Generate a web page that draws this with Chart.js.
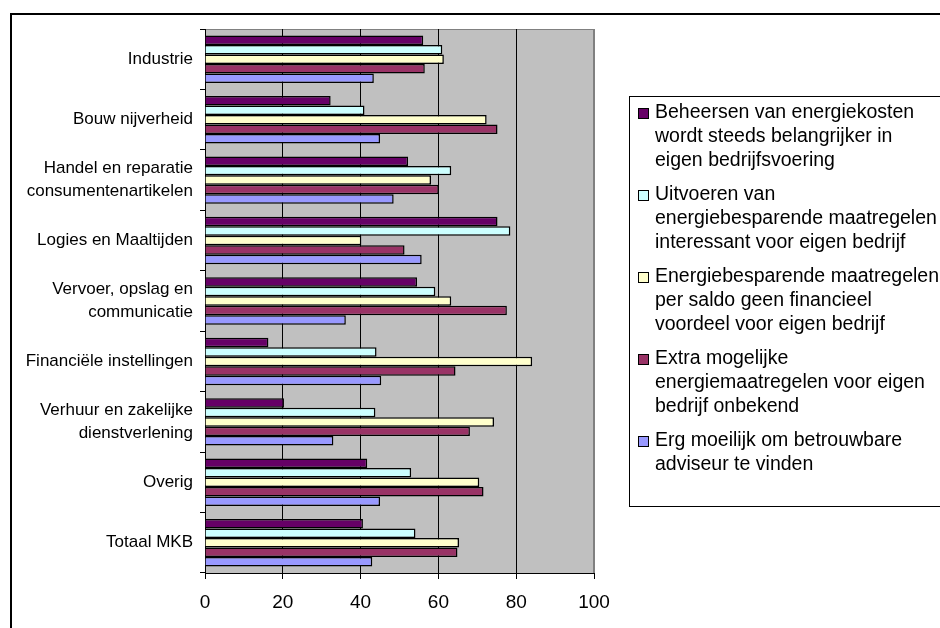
<!DOCTYPE html>
<html>
<head>
<meta charset="utf-8">
<script src="https://cdn.jsdelivr.net/npm/chart.js@4.4.1/dist/chart.umd.min.js"></script>
<style>
  html, body { margin: 0; padding: 0; background: #fff; }
  canvas { display: block; }
</style>
</head>
<body>
<canvas id="chart" width="940" height="628"></canvas>
<script>
// Categories (multi-line labels as arrays)
const categories = [
  'Industrie',
  'Bouw nijverheid',
  ['Handel en reparatie', 'consumentenartikelen'],
  'Logies en Maaltijden',
  ['Vervoer, opslag en', 'communicatie'],
  'Financiële instellingen',
  ['Verhuur en zakelijke', 'dienstverlening'],
  'Overig',
  'Totaal MKB'
];

// Series names, wrapped the way the legend shows them
const seriesNames = [
  ['Beheersen van energiekosten', 'wordt steeds belangrijker in', 'eigen bedrijfsvoering'],
  ['Uitvoeren van', 'energiebesparende maatregelen', 'interessant voor eigen bedrijf'],
  ['Energiebesparende maatregelen', 'per saldo geen financieel', 'voordeel voor eigen bedrijf'],
  ['Extra mogelijke', 'energiemaatregelen voor eigen', 'bedrijf onbekend'],
  ['Erg moeilijk om betrouwbare', 'adviseur te vinden']
];

const beheersen    = [56.1, 32.3, 52.2, 75.2, 54.5, 16.3, 20.3, 41.7, 40.6];
const uitvoeren    = [61.0, 41.0, 63.3, 78.5, 59.2, 44.1, 43.8, 53.0, 54.1];
const geenVoordeel = [61.4, 72.4, 58.1, 40.2, 63.3, 84.1, 74.3, 70.5, 65.3];
const onbekend     = [56.5, 75.2, 60.1, 51.3, 77.6, 64.4, 68.1, 71.6, 64.9];
const adviseur     = [43.4, 45.0, 48.5, 55.7, 36.2, 45.3, 33.0, 45.0, 43.0];

const seriesValues = [beheersen, uitvoeren, geenVoordeel, onbekend, adviseur];
const seriesColors = ['#660066', '#ccffff', '#ffffcc', '#993366', '#9999ff'];

const FONT = "'Liberation Sans', Arial, sans-serif";

// Gray plot area, outer frame
const backdrop = {
  id: 'backdrop',
  beforeDraw(chart) {
    const { ctx, chartArea: a } = chart;
    ctx.save();
    ctx.strokeStyle = '#000';
    ctx.lineWidth = 2;
    ctx.strokeRect(11, 14, 2000, 2000);
    ctx.fillStyle = '#c0c0c0';
    ctx.fillRect(a.left, a.top, a.right - a.left, a.bottom - a.top);
    ctx.strokeStyle = '#808080';
    ctx.lineWidth = 1;
    ctx.strokeRect(a.left + 0.5, a.top + 0.5, a.right - a.left - 1, a.bottom - a.top);
    ctx.restore();
  }
};

// Boxed legend on the right with wrapped lines
const boxLegend = {
  id: 'boxLegend',
  afterDraw(chart) {
    const { ctx } = chart;
    ctx.save();
    ctx.strokeStyle = '#000';
    ctx.lineWidth = 1;
    ctx.strokeRect(629.5, 96.5, 400, 410);
    ctx.font = "19.5px " + FONT;
    ctx.textBaseline = 'middle';
    ctx.textAlign = 'left';
    chart.data.datasets.forEach((ds, i) => {
      const y0 = 113 + i * 82;
      ctx.fillStyle = ds.backgroundColor;
      ctx.fillRect(638, y0 - 5, 10, 10);
      ctx.strokeStyle = '#000';
      ctx.strokeRect(638.5, y0 - 4.5, 10, 10);
      ctx.fillStyle = '#000';
      ds.legendLines.forEach((line, j) => {
        ctx.fillText(line, 655, y0 + j * 24);
      });
    });
    ctx.restore();
  }
};

const datasets = seriesValues.map((values, i) => ({
  label: seriesNames[i].join(' '),
  legendLines: seriesNames[i],
  data: values,
  backgroundColor: seriesColors[i],
  borderColor: '#000',
  borderWidth: 1.5,
  categoryPercentage: 0.785,
  barPercentage: 1.0
}));

new Chart(document.getElementById('chart'), {
  type: 'bar',
  data: { labels: categories, datasets: datasets },
  options: {
    indexAxis: 'y',
    responsive: false,
    animation: false,
    layout: { padding: { top: 29, right: 346, left: 0, bottom: 0 } },
    plugins: {
      legend: { display: false },
      tooltip: { enabled: false }
    },
    scales: {
      x: {
        min: 0,
        max: 100,
        ticks: {
          stepSize: 20,
          color: '#000',
          padding: 12,
          font: { family: FONT, size: 19 }
        },
        grid: {
          color: c => (c.tick && c.tick.value === 100 ? '#808080' : '#000'),
          tickColor: '#000',
          tickLength: 6,
          lineWidth: 1
        },
        border: { display: true, color: '#000', width: 1 },
        afterFit(scale) { scale.height = 55; }
      },
      y: {
        ticks: {
          color: '#000',
          padding: 7,
          font: { family: FONT, size: 17, lineHeight: 1.35 }
        },
        grid: {
          drawOnChartArea: false,
          color: '#000',
          tickLength: 5
        },
        border: { display: true, color: '#000', width: 1 },
        afterFit(scale) { scale.width = 205; }
      }
    }
  },
  plugins: [backdrop, boxLegend]
});
</script>
</body>
</html>
